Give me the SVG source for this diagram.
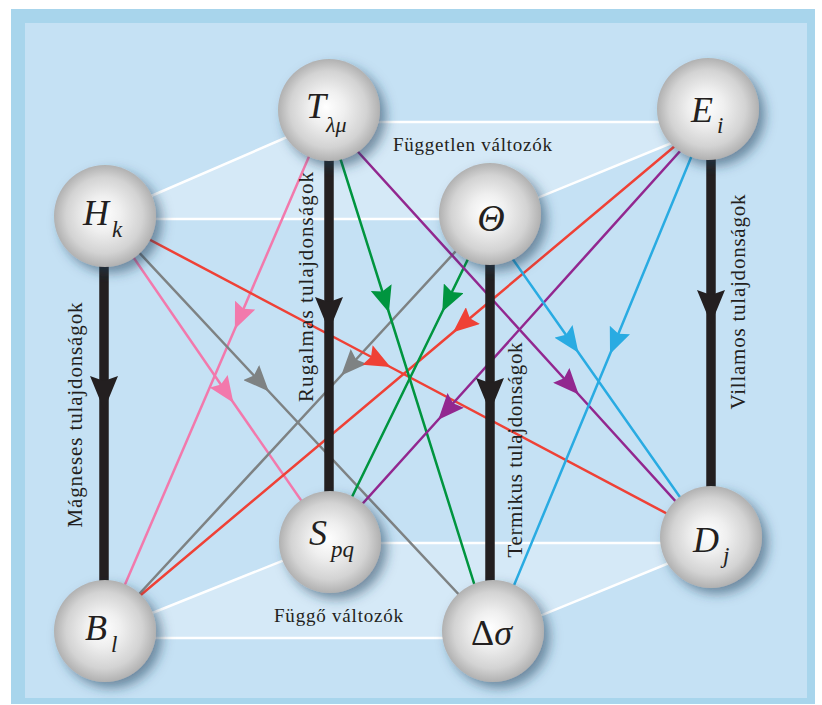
<svg xmlns="http://www.w3.org/2000/svg" width="822" height="705" viewBox="0 0 822 705">
<style>
.lbl{font-family:"Liberation Serif","Times New Roman",serif;fill:#231f20}
.sym{font-family:"Liberation Serif","Times New Roman",serif;font-style:italic;fill:#231f20}
.plane{fill:#ffffff;fill-opacity:0.28;stroke:#ffffff;stroke-width:2.5;stroke-linejoin:round}
.c{fill:none;stroke-width:2.5}
.blk{fill:none;stroke:#231f20;stroke-width:9.5}
.ball{fill:url(#ball);filter:url(#sh)}
</style>
<defs>
<radialGradient id="ball" cx="0.5" cy="0.5" r="0.5" fx="0.47" fy="0.47">
<stop offset="0" stop-color="#ffffff"/>
<stop offset="0.35" stop-color="#efefef"/>
<stop offset="0.75" stop-color="#d3d3d3"/>
<stop offset="1" stop-color="#b1b1b1"/>
</radialGradient>
<filter id="sh" x="-30%" y="-30%" width="170%" height="170%">
<feDropShadow dx="6" dy="6" stdDeviation="6" flood-color="#1f3f5a" flood-opacity="0.55"/>
</filter>
<marker id="aPink" markerUnits="userSpaceOnUse" viewBox="0 0 26 22" markerWidth="26" markerHeight="22" refX="13" refY="11" orient="auto"><path d="M0,0 L26,11 L0,22 L4,11 Z" fill="#f279ac"/></marker>
<marker id="aGray" markerUnits="userSpaceOnUse" viewBox="0 0 26 22" markerWidth="26" markerHeight="22" refX="13" refY="11" orient="auto"><path d="M0,0 L26,11 L0,22 L4,11 Z" fill="#7e8283"/></marker>
<marker id="aRed" markerUnits="userSpaceOnUse" viewBox="0 0 26 22" markerWidth="26" markerHeight="22" refX="13" refY="11" orient="auto"><path d="M0,0 L26,11 L0,22 L4,11 Z" fill="#ef4136"/></marker>
<marker id="aGreen" markerUnits="userSpaceOnUse" viewBox="0 0 26 22" markerWidth="26" markerHeight="22" refX="13" refY="11" orient="auto"><path d="M0,0 L26,11 L0,22 L4,11 Z" fill="#00953f"/></marker>
<marker id="aPurple" markerUnits="userSpaceOnUse" viewBox="0 0 26 22" markerWidth="26" markerHeight="22" refX="13" refY="11" orient="auto"><path d="M0,0 L26,11 L0,22 L4,11 Z" fill="#92278f"/></marker>
<marker id="aBlue" markerUnits="userSpaceOnUse" viewBox="0 0 26 22" markerWidth="26" markerHeight="22" refX="13" refY="11" orient="auto"><path d="M0,0 L26,11 L0,22 L4,11 Z" fill="#29abe2"/></marker>
<marker id="aBlack" markerUnits="userSpaceOnUse" viewBox="0 0 34 28" markerWidth="34" markerHeight="28" refX="17" refY="14" orient="auto"><path d="M0,0 L34,14 L0,28 L5,14 Z" fill="#231f20"/></marker>
</defs>

<rect x="11" y="9" width="804" height="695" fill="#a8d5ec"/>
<rect x="25" y="23" width="782" height="675" fill="#c5e1f4"/>

<g id="planes">
<polygon class="plane" points="98,219 322,122 723,122 486,219"/>
<polygon class="plane" points="90,638 327,543 718,543 486,638"/>
</g>

<g id="connectors">
<path class="c" stroke="#f279ac" marker-mid="url(#aPink)" d="M329,110 L240,317 L105,631"/>
<path class="c" stroke="#f279ac" marker-mid="url(#aPink)" d="M105,216 L226,392 L330,542"/>
<path class="c" stroke="#7e8283" marker-mid="url(#aGray)" d="M105,216 L260,382 L493,631"/>
<path class="c" stroke="#7e8283" marker-mid="url(#aGray)" d="M490,214 L350,366 L105,631"/>
<path class="c" stroke="#ef4136" marker-mid="url(#aRed)" d="M105,216 L379,361 L711,537"/>
<path class="c" stroke="#ef4136" marker-mid="url(#aRed)" d="M719,109 L463,324 L98,631"/>
<path class="c" stroke="#00953f" marker-mid="url(#aGreen)" d="M325,110 L385,300 L489,631"/>
<path class="c" stroke="#00953f" marker-mid="url(#aGreen)" d="M490,214 L448,300 L330,542"/>
<path class="c" stroke="#92278f" marker-mid="url(#aPurple)" d="M320,110 L570,385 L708,537"/>
<path class="c" stroke="#92278f" marker-mid="url(#aPurple)" d="M718,109 L447,410 L328,542"/>
<path class="c" stroke="#29abe2" marker-mid="url(#aBlue)" d="M481,214 L571,342 L708,537"/>
<path class="c" stroke="#29abe2" marker-mid="url(#aBlue)" d="M711,109 L615,342 L495,631"/>
<path class="blk" marker-mid="url(#aBlack)" d="M104,216 L104,393 L104,631"/>
<path class="blk" marker-mid="url(#aBlack)" d="M329,110 L329,314 L329,542"/>
<path class="blk" marker-mid="url(#aBlack)" d="M490,214 L490,395 L490,631"/>
<path class="blk" marker-mid="url(#aBlack)" d="M711,109 L711,307 L711,537"/>
</g>

<g id="labels">
<text class="lbl" font-size="21" text-anchor="middle" textLength="225" lengthAdjust="spacing" transform="translate(82,415) rotate(-90)">Mágneses tulajdonságok</text>
<text class="lbl" font-size="21" text-anchor="middle" textLength="230" lengthAdjust="spacing" transform="translate(313,287) rotate(-90)">Rugalmas tulajdonságok</text>
<text class="lbl" font-size="21" text-anchor="middle" textLength="215" lengthAdjust="spacing" transform="translate(522,450) rotate(-90)">Termikus tulajdonságok</text>
<text class="lbl" font-size="21" text-anchor="middle" textLength="215" lengthAdjust="spacing" transform="translate(745,302) rotate(-90)">Villamos tulajdonságok</text>
<text class="lbl" font-size="19" x="393" y="151" textLength="159" lengthAdjust="spacing">Független változók</text>
<text class="lbl" font-size="19" x="274" y="622" textLength="129" lengthAdjust="spacing">Függő változók</text>
</g>

<g id="node-T">
<circle class="ball" cx="329" cy="110" r="51"/>
<text class="sym" font-size="36" x="306" y="118">T</text>
<text class="sym" font-size="22" x="326" y="132">λμ</text>
</g>
<g id="node-H">
<circle class="ball" cx="105" cy="216" r="51"/>
<text class="sym" font-size="36" x="83" y="225">H</text>
<text class="sym" font-size="23" x="112" y="237">k</text>
</g>
<g id="node-Theta">
<circle class="ball" cx="490" cy="214" r="51"/>
<text class="sym" font-size="38" x="491" y="231" text-anchor="middle">Θ</text>
</g>
<g id="node-E">
<circle class="ball" cx="708" cy="109" r="51"/>
<text class="sym" font-size="36" x="691" y="122">E</text>
<text class="sym" font-size="23" x="717" y="133">i</text>
</g>
<g id="node-S">
<circle class="ball" cx="330" cy="542" r="51"/>
<text class="sym" font-size="36" x="309" y="545">S</text>
<text class="sym" font-size="23" x="331" y="557">pq</text>
</g>
<g id="node-B">
<circle class="ball" cx="105" cy="631" r="51"/>
<text class="sym" font-size="36" x="85" y="640">B</text>
<text class="sym" font-size="23" x="111" y="652">l</text>
</g>
<g id="node-Dsigma">
<circle class="ball" cx="493" cy="631" r="51"/>
<text class="lbl" font-size="36" x="471" y="645">Δ<tspan font-style="italic">σ</tspan></text>
</g>
<g id="node-D">
<circle class="ball" cx="711" cy="537" r="51"/>
<text class="sym" font-size="36" x="693" y="552">D</text>
<text class="sym" font-size="23" x="723" y="563">j</text>
</g>
</svg>
